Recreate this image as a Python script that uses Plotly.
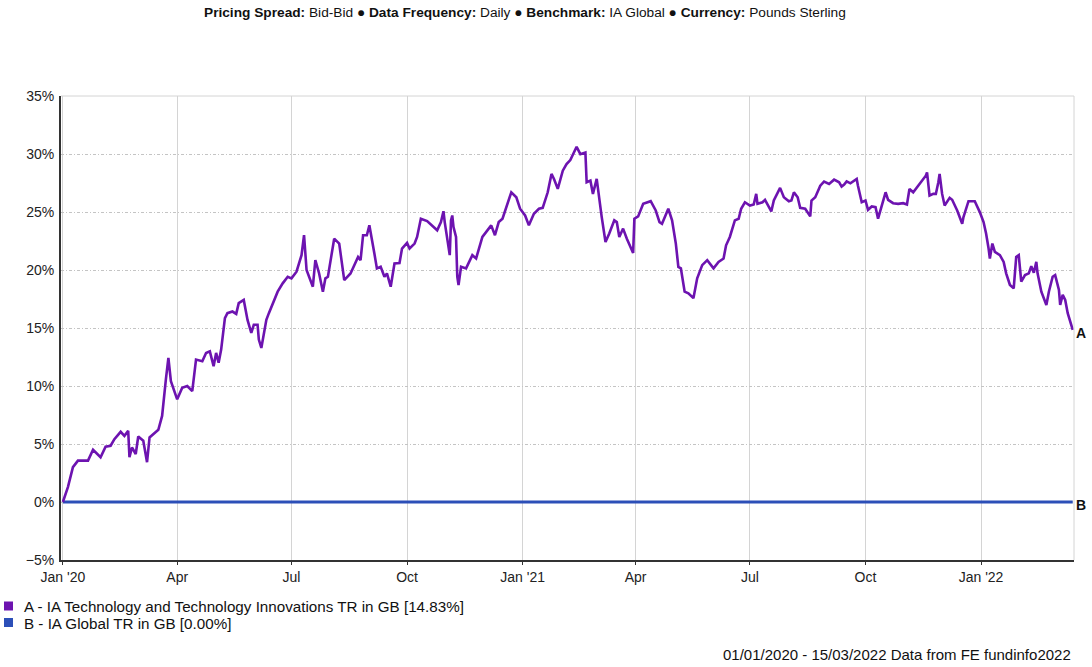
import pandas as pd
import plotly.graph_objects as go

START = pd.Timestamp("2020-01-01")
END = pd.Timestamp("2022-03-15")

# Day offsets from 01/01/2020 and cumulative % return
fund_days = [
    0, 4, 8, 12, 20, 24, 30, 34, 38, 41, 46, 49, 52, 53, 55, 58, 60, 64, 67, 69,
    76, 79, 82, 84, 86, 91, 95, 99, 103, 106, 111, 114, 117, 120, 122, 124, 126, 129, 131, 135,
    138, 140, 144, 147, 150, 152, 155, 156, 158, 162, 164, 171, 175, 179, 182, 186, 190, 192, 194, 199,
    201, 204, 207, 209, 211, 216, 220, 224, 229, 235, 237, 239, 242, 244, 248, 250, 253, 256, 258, 261,
    264, 268, 270, 274, 276, 280, 282, 285, 290, 294, 298, 301, 303, 304, 307, 308, 309, 310, 311, 313,
    314, 315, 317, 321, 326, 329, 334, 341, 344, 347, 350, 357, 361, 364, 368, 371, 375, 379, 382, 386,
    389, 391, 394, 398, 401, 404, 409, 412, 416, 417, 420, 422, 425, 427, 429, 432, 435, 439, 441, 443,
    446, 449, 454, 455, 458, 462, 468, 472, 475, 477, 482, 485, 488, 490, 492, 495, 498, 502, 505, 509,
    513, 518, 522, 526, 528, 531, 535, 538, 540, 543, 547, 550, 552, 553, 557, 559, 564, 566, 571, 574,
    578, 580, 582, 585, 587, 591, 595, 596, 599, 603, 606, 610, 614, 618, 620, 622, 624, 627, 632, 633,
    636, 639, 641, 644, 647, 649, 651, 653, 655, 657, 661, 665, 669, 672, 674, 677, 683, 687, 688, 690,
    693, 695, 697, 698, 700, 702, 706, 708, 712, 716, 717, 721, 726, 730, 733, 735, 737, 738, 740, 742,
    746, 749, 751, 754, 757, 759, 761, 763, 766, 769, 771, 773, 775, 776, 779, 783, 785, 788, 790, 793,
    794, 796, 798, 800, 804,
]
fund_values = [
    0.00, 1.29, 3.00, 3.57, 3.57, 4.50, 3.86, 4.77, 4.85, 5.42, 6.05, 5.70, 6.14, 3.86, 4.70, 4.14, 5.65, 5.28, 3.43, 5.57,
    6.22, 7.42, 10.57, 12.43, 10.42, 8.85, 9.85, 10.00, 9.56, 12.28, 12.13, 12.85, 12.99, 11.70, 12.85, 12.00, 13.14, 15.85, 16.28, 16.42,
    16.22, 17.14, 17.42, 15.70, 14.57, 15.28, 15.28, 14.00, 13.28, 15.70, 16.28, 18.13, 18.85, 19.42, 19.28, 19.85, 21.28, 23.00, 20.00, 18.56,
    20.85, 19.70, 18.13, 19.28, 19.42, 22.70, 22.28, 19.13, 19.70, 21.13, 20.85, 23.00, 23.00, 23.85, 21.42, 20.14, 20.28, 19.42, 19.70, 18.56,
    20.56, 20.60, 21.85, 22.33, 21.85, 22.28, 22.85, 24.42, 24.22, 23.85, 23.42, 24.13, 25.07, 24.13, 21.85, 21.28, 24.28, 24.70, 23.70, 22.85,
    19.42, 18.70, 20.28, 20.14, 21.28, 21.00, 22.85, 23.85, 23.00, 24.13, 24.42, 26.70, 26.27, 25.28, 24.70, 23.85, 24.85, 25.28, 25.36, 26.70,
    28.28, 27.85, 27.00, 28.56, 29.13, 29.48, 30.62, 29.99, 30.13, 27.56, 27.70, 26.56, 27.85, 25.99, 24.56, 22.42, 23.14, 24.28, 24.13, 22.85,
    23.57, 22.70, 21.47, 24.42, 24.62, 25.70, 25.93, 25.13, 24.13, 23.99, 25.28, 24.28, 22.28, 20.27, 20.14, 18.13, 17.99, 17.57, 19.28, 20.42,
    20.85, 20.14, 20.70, 20.99, 22.13, 22.85, 24.28, 24.42, 25.28, 25.84, 25.56, 25.65, 26.56, 25.71, 25.84, 26.05, 25.05, 25.99, 27.08, 26.27,
    25.93, 25.99, 26.70, 26.27, 25.36, 25.28, 24.62, 25.99, 26.27, 27.27, 27.62, 27.42, 27.79, 27.56, 27.19, 27.36, 27.64, 27.47, 27.85, 27.27,
    25.84, 25.99, 25.19, 25.48, 25.42, 24.42, 25.13, 25.84, 26.70, 26.05, 25.76, 25.70, 25.76, 25.65, 26.99, 26.70, 27.56, 28.13, 28.41, 26.42,
    26.56, 26.56, 27.56, 28.28, 26.56, 25.56, 26.22, 26.05, 25.13, 23.99, 24.56, 25.93, 25.93, 24.99, 24.13, 23.14, 21.85, 20.99, 22.28, 21.56,
    21.28, 20.70, 19.71, 18.71, 18.42, 21.13, 21.28, 18.99, 19.56, 19.71, 20.33, 19.76, 20.70, 19.71, 18.13, 16.99, 18.13, 19.42, 19.56, 18.28,
    16.99, 17.85, 17.42, 16.28, 14.83,
]
benchmark_dates = [START, END]
benchmark_values = [0.00, 0.00]

tick_dates = ["2020-01-01", "2020-04-01", "2020-07-01", "2020-10-01", "2021-01-01",
              "2021-04-01", "2021-07-01", "2021-10-01", "2022-01-01"]
tick_labels = ["Jan '20", "Apr", "Jul", "Oct", "Jan '21", "Apr", "Jul", "Oct", "Jan '22"]

fund_name = "A - IA Technology and Technology Innovations TR in GB [14.83%]"
bench_name = "B - IA Global TR in GB [0.00%]"
PURPLE = "#6d13b0"
BLUE = "#2c4fb8"
FONT = "Liberation Sans, Arial, sans-serif"

PAGE_W, PAGE_H = 1092, 667
# plot area in page pixels, used to place the header/legend/footer text
L, R, T, B = 61, 1074, 96, 560


def px(x):
    return (x - L) / (R - L)


def py(y):
    return (B - y) / (B - T)


fund_dates = START + pd.to_timedelta(fund_days, unit="D")

fig = go.Figure()
fig.add_trace(go.Scatter(x=benchmark_dates, y=benchmark_values, mode="lines",
                         line={"color": BLUE, "width": 3}, name=bench_name))
fig.add_trace(go.Scatter(x=fund_dates, y=fund_values, mode="lines",
                         line={"color": PURPLE, "width": 2.6}, name=fund_name))

fig.update_xaxes(
    range=[START - pd.Timedelta(hours=36), END + pd.Timedelta(hours=24)],
    tickvals=tick_dates, ticktext=tick_labels,
    showgrid=True, gridcolor="#d4d4d4", gridwidth=1,
    ticks="outside", ticklen=3, tickcolor="#333",
    showline=True, linecolor="#333", linewidth=2,
    tickfont={"family": FONT, "size": 14, "color": "#222"},
    zeroline=False,
)
fig.update_yaxes(
    range=[-5, 35], dtick=5, ticksuffix="%",
    showgrid=True, gridcolor="#c4c4c4", gridwidth=1, griddash="3px,2px,1px,2px",
    showline=True, linecolor="#333", linewidth=2,
    tickfont={"family": FONT, "size": 14, "color": "#222"},
    zeroline=False, ticklabelstandoff=2,
)

# light border on top and right of the plot area
fig.add_shape(type="line", xref="paper", yref="paper", x0=0, x1=1, y0=1, y1=1,
              line={"color": "#d4d4d4", "width": 1})
fig.add_shape(type="line", xref="paper", yref="paper", x0=1, x1=1, y0=0, y1=1,
              line={"color": "#d4d4d4", "width": 1})

# end labels
for label, yval in (("A", fund_values[-1]), ("B", benchmark_values[-1])):
    fig.add_annotation(text=f"<b>{label}</b>", x=1, y=yval, xref="paper", yref="y",
                       xanchor="left", yanchor="middle", xshift=0, yshift=-3, showarrow=False,
                       font={"family": FONT, "size": 14, "color": "#111"})

header = ("<b>Pricing Spread:</b> Bid-Bid ● <b>Data Frequency:</b> Daily ● "
          "<b>Benchmark:</b> IA Global ● <b>Currency:</b> Pounds Sterling")
fig.add_annotation(text=header, x=px(525), y=py(13), xref="paper", yref="paper",
                   xanchor="center", yanchor="middle", showarrow=False,
                   font={"family": FONT, "size": 13.7, "color": "#111"})

# legend drawn by hand: square + text
for color, name, ytop in ((PURPLE, fund_name, 601.5), (BLUE, bench_name, 618)):
    fig.add_shape(type="rect", xref="paper", yref="paper",
                  x0=px(4), x1=px(13), y0=py(ytop), y1=py(ytop + 9),
                  fillcolor=color, line={"width": 0})
    fig.add_annotation(text=name, x=px(22), y=py(ytop + 5), xref="paper", yref="paper",
                       xanchor="left", yanchor="middle", showarrow=False,
                       font={"family": FONT, "size": 15.2, "color": "#111"})

fig.add_annotation(text="01/01/2020 - 15/03/2022 Data from FE fundinfo2022",
                   x=px(1073), y=py(654), xref="paper", yref="paper",
                   xanchor="right", yanchor="middle", showarrow=False,
                   font={"family": FONT, "size": 15, "color": "#111"})

fig.update_layout(
    width=PAGE_W, height=PAGE_H,
    margin={"l": L, "r": PAGE_W - R, "t": T, "b": PAGE_H - B},
    paper_bgcolor="white", plot_bgcolor="white",
    showlegend=False,
    hovermode="x unified",
)

# drop the default 8px body margin so the figure fills the window exactly
fig.write_html("out.html", config={"displayModeBar": False},
               post_script="document.body.style.margin='0';")
